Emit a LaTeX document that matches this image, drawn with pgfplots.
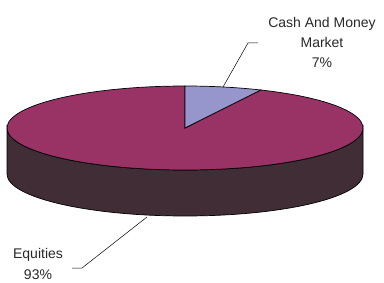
\documentclass[border=0pt]{standalone}
\usepackage{pgfplots}
\pgfplotsset{compat=1.18}
\usepackage{fontspec}
\setmainfont{Liberation Sans}
\definecolor{cashc}{RGB}{150,150,204}
\definecolor{eqc}{RGB}{153,51,102}
\definecolor{sidec}{RGB}{64,45,54}
\definecolor{txt}{RGB}{40,40,40}
\begin{document}
\begin{tikzpicture}
% data (percent)
\def\cashval{7}
\def\eqval{93}
\pgfmathsetmacro{\cx}{185}
\pgfmathsetmacro{\cy}{154}
\pgfmathsetmacro{\rx}{178}
\pgfmathsetmacro{\ry}{42}
\pgfmathsetmacro{\dep}{46}
\pgfmathsetmacro{\cyb}{\cy-\dep}
\pgfmathsetmacro{\a}{90-360*\cashval/(\cashval+\eqval)}
\pgfmathsetmacro{\ax}{\cx+\rx*cos(\a)}
\pgfmathsetmacro{\ay}{\cy+\ry*sin(\a)}
\pgfmathsetmacro{\lx}{\cx-\rx}
\pgfmathsetmacro{\rxx}{\cx+\rx}
\pgfmathsetmacro{\tp}{\cy+\ry}
\begin{axis}[scale only axis, width=384pt, height=282pt,
  xmin=0, xmax=384, ymin=0, ymax=282, hide axis, ticks=none, clip=false]
% side wall
\filldraw[fill=sidec, draw=black, line width=0.7pt]
  (axis cs:\lx,\cy) -- (axis cs:\lx,\cyb)
  arc[start angle=180, end angle=360, x radius=\rx, y radius=\ry]
  -- (axis cs:\rxx,\cy)
  arc[start angle=0, end angle=-180, x radius=\rx, y radius=\ry] -- cycle;
% equities top
\filldraw[fill=eqc, draw=black, line width=0.7pt]
  (axis cs:\cx,\cy) -- (axis cs:\ax,\ay)
  arc[start angle=\a, end angle=-270, x radius=\rx, y radius=\ry] -- cycle;
% cash top
\filldraw[fill=cashc, draw=black, line width=0.7pt]
  (axis cs:\cx,\cy) -- (axis cs:\cx,\tp)
  arc[start angle=90, end angle=\a, x radius=\rx, y radius=\ry] -- cycle;
% leaders
\draw[black, line width=0.5pt] (axis cs:223,195) -- (axis cs:248,239) -- (axis cs:258,239);
\draw[black, line width=0.5pt] (axis cs:147,65) -- (axis cs:82,14) -- (axis cs:72,14);
% labels
\node[text=txt, align=center, inner sep=0pt, font=\fontsize{14}{20}\selectfont] at (axis cs:322,240)
  {Cash And Money\\Market\\7\%};
\node[text=txt, align=center, inner sep=0pt, font=\fontsize{14}{21}\selectfont] at (axis cs:38,18)
  {Equities\\93\%};
\end{axis}
\pgfresetboundingbox
\useasboundingbox (current axis.south west) rectangle (current axis.north east);
\end{tikzpicture}
\end{document}
